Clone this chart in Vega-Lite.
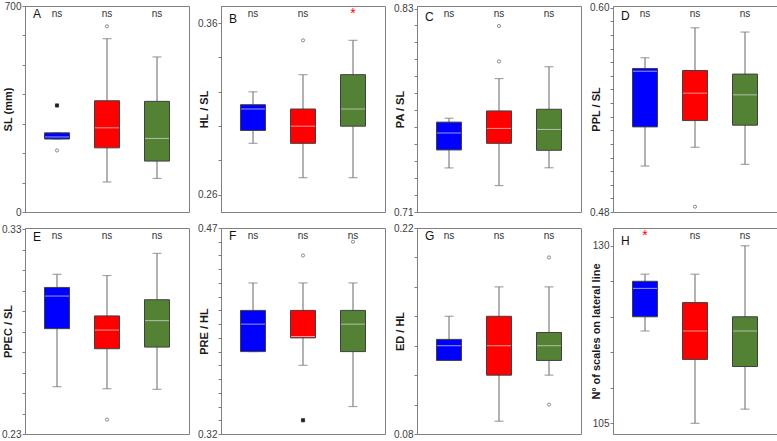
{
  "$schema": "https://vega.github.io/schema/vega-lite/v6.json",
  "padding": {"left": 1, "top": 0, "right": 0, "bottom": 0},
  "background": "white",
  "datasets": {
    "box": [
      {"panel": "A", "group": "g1", "lower": 248, "q1": 248, "median": 255, "q3": 269, "upper": 269, "sig": "ns"},
      {"panel": "A", "group": "g2", "lower": 102, "q1": 218, "median": 286, "q3": 378, "upper": 589, "sig": "ns"},
      {"panel": "A", "group": "g3", "lower": 114, "q1": 173, "median": 250, "q3": 376, "upper": 527, "sig": "ns"},
      {"panel": "B", "group": "g1", "lower": 0.290, "q1": 0.2975, "median": 0.310, "q3": 0.3125, "upper": 0.320, "sig": "ns"},
      {"panel": "B", "group": "g2", "lower": 0.270, "q1": 0.290, "median": 0.300, "q3": 0.310, "upper": 0.330, "sig": "ns"},
      {"panel": "B", "group": "g3", "lower": 0.270, "q1": 0.300, "median": 0.310, "q3": 0.330, "upper": 0.350, "sig": "*"},
      {"panel": "C", "group": "g1", "lower": 0.736, "q1": 0.7466, "median": 0.7566, "q3": 0.763, "upper": 0.7653, "sig": "ns"},
      {"panel": "C", "group": "g2", "lower": 0.7256, "q1": 0.7505, "median": 0.7593, "q3": 0.7696, "upper": 0.7887, "sig": "ns"},
      {"panel": "C", "group": "g3", "lower": 0.7361, "q1": 0.7464, "median": 0.7587, "q3": 0.7706, "upper": 0.7957, "sig": "ns"},
      {"panel": "D", "group": "g1", "lower": 0.507, "q1": 0.530, "median": 0.5627, "q3": 0.5643, "upper": 0.5706, "sig": "ns"},
      {"panel": "D", "group": "g2", "lower": 0.518, "q1": 0.5337, "median": 0.5498, "q3": 0.5631, "upper": 0.5882, "sig": "ns"},
      {"panel": "D", "group": "g3", "lower": 0.508, "q1": 0.531, "median": 0.5488, "q3": 0.561, "upper": 0.5857, "sig": "ns"},
      {"panel": "E", "group": "g1", "lower": 0.2531, "q1": 0.2814, "median": 0.2973, "q3": 0.3015, "upper": 0.3079, "sig": "ns"},
      {"panel": "E", "group": "g2", "lower": 0.2521, "q1": 0.2716, "median": 0.2807, "q3": 0.2876, "upper": 0.3073, "sig": "ns"},
      {"panel": "E", "group": "g3", "lower": 0.2518, "q1": 0.2724, "median": 0.2853, "q3": 0.2955, "upper": 0.3181, "sig": "ns"},
      {"panel": "F", "group": "g1", "lower": 0.38, "q1": 0.38, "median": 0.40, "q3": 0.41, "upper": 0.43, "sig": "ns"},
      {"panel": "F", "group": "g2", "lower": 0.37, "q1": 0.39, "median": 0.391, "q3": 0.41, "upper": 0.43, "sig": "ns"},
      {"panel": "F", "group": "g3", "lower": 0.34, "q1": 0.38, "median": 0.40, "q3": 0.41, "upper": 0.43, "sig": "ns"},
      {"panel": "G", "group": "g1", "lower": 0.13, "q1": 0.13, "median": 0.14, "q3": 0.1443, "upper": 0.16, "sig": "ns"},
      {"panel": "G", "group": "g2", "lower": 0.0887, "q1": 0.12, "median": 0.14, "q3": 0.16, "upper": 0.18, "sig": "ns"},
      {"panel": "G", "group": "g3", "lower": 0.12, "q1": 0.13, "median": 0.14, "q3": 0.149, "upper": 0.18, "sig": "ns"},
      {"panel": "H", "group": "g1", "lower": 118, "q1": 120, "median": 124, "q3": 125, "upper": 126, "sig": "*"},
      {"panel": "H", "group": "g2", "lower": 105, "q1": 114, "median": 118, "q3": 122, "upper": 126, "sig": "ns"},
      {"panel": "H", "group": "g3", "lower": 107, "q1": 113, "median": 118, "q3": 120, "upper": 130, "sig": "ns"}
    ],
    "out": [
      {"panel": "A", "group": "g1", "value": 362, "kind": "extreme"},
      {"panel": "A", "group": "g1", "value": 209, "kind": "outlier"},
      {"panel": "A", "group": "g2", "value": 631, "kind": "outlier"},
      {"panel": "B", "group": "g2", "value": 0.350, "kind": "outlier"},
      {"panel": "C", "group": "g2", "value": 0.7988, "kind": "outlier"},
      {"panel": "C", "group": "g2", "value": 0.8197, "kind": "outlier"},
      {"panel": "D", "group": "g2", "value": 0.4831, "kind": "outlier"},
      {"panel": "E", "group": "g2", "value": 0.237, "kind": "outlier"},
      {"panel": "F", "group": "g2", "value": 0.45, "kind": "outlier"},
      {"panel": "F", "group": "g2", "value": 0.33, "kind": "extreme"},
      {"panel": "F", "group": "g3", "value": 0.46, "kind": "outlier"},
      {"panel": "G", "group": "g3", "value": 0.20, "kind": "outlier"},
      {"panel": "G", "group": "g3", "value": 0.10, "kind": "outlier"}
    ]
  },
  "concat": [
    {
      "width": 164, "height": 206,
      "title": "A",
      "data": {"name": "box"},
      "transform": [{"filter": "datum.panel=='A'"}],
      "encoding": {"x": {"field": "group", "type": "nominal", "axis": null, "scale": {"domain": ["g1", "g2", "g3"], "paddingInner": 0.5, "paddingOuter": 0.39}}},
      "layer": [
        {"mark": {"type": "rule", "color": "#7f7f7f", "strokeWidth": 1.2}, "encoding": {"y": {"field": "lower", "type": "quantitative", "title": "SL (mm)", "scale": {"domain": [0, 700], "nice": false, "zero": false}, "axis": {"values": [0, 100, 200, 300, 400, 500, 600, 700], "format": "d", "labelExpr": "datum.index==0||datum.index==1?datum.label:''"}}, "y2": {"field": "upper"}}},
        {"mark": {"type": "tick", "size": 9, "color": "#7f7f7f", "thickness": 1.2}, "encoding": {"y": {"field": "lower", "type": "quantitative"}}},
        {"mark": {"type": "tick", "size": 9, "color": "#7f7f7f", "thickness": 1.2}, "encoding": {"y": {"field": "upper", "type": "quantitative"}}},
        {"mark": {"type": "bar", "stroke": "#404040", "strokeWidth": 1}, "encoding": {"y": {"field": "q1", "type": "quantitative"}, "y2": {"field": "q3"}, "color": {"field": "group", "type": "nominal", "legend": null, "scale": {"domain": ["g1", "g2", "g3"], "range": ["#0000ff", "#ff0000", "#548235"]}}}},
        {"mark": {"type": "tick", "size": 24, "color": "#dcdcdc", "thickness": 1}, "encoding": {"y": {"field": "median", "type": "quantitative"}}},
        {"data": {"name": "out"}, "transform": [{"filter": "datum.panel=='A'"}], "mark": {"type": "point", "size": 10, "strokeWidth": 0.8, "opacity": 1}, "encoding": {"y": {"field": "value", "type": "quantitative"}, "shape": {"field": "kind", "type": "nominal", "legend": null, "scale": {"domain": ["outlier", "extreme"], "range": ["circle", "square"]}}, "fill": {"condition": {"test": "datum.kind=='extreme'", "value": "#222222"}, "value": "#ffffff"}, "stroke": {"condition": {"test": "datum.kind=='extreme'", "value": "#222222"}, "value": "#707070"}}},
        {"mark": {"type": "text", "baseline": "middle", "dy": 8}, "encoding": {"y": {"value": 0}, "text": {"field": "sig"}, "color": {"condition": {"test": "datum.sig=='*'", "value": "#ff0000"}, "value": "#333333"}, "size": {"condition": {"test": "datum.sig=='*'", "value": 14}, "value": 10}}}
      ]
    },
    {
      "width": 164, "height": 206,
      "title": "B",
      "data": {"name": "box"},
      "transform": [{"filter": "datum.panel=='B'"}],
      "encoding": {"x": {"field": "group", "type": "nominal", "axis": null, "scale": {"domain": ["g1", "g2", "g3"], "paddingInner": 0.5, "paddingOuter": 0.39}}},
      "layer": [
        {"mark": {"type": "rule", "color": "#7f7f7f", "strokeWidth": 1.2}, "encoding": {"y": {"field": "lower", "type": "quantitative", "title": "HL / SL", "scale": {"domain": [0.25, 0.37], "nice": false, "zero": false}, "axis": {"values": [0.26, 0.28, 0.30, 0.32, 0.34, 0.36], "format": ".2f", "labelExpr": "datum.index==0||datum.index==1?datum.label:''"}}, "y2": {"field": "upper"}}},
        {"mark": {"type": "tick", "size": 9, "color": "#7f7f7f", "thickness": 1.2}, "encoding": {"y": {"field": "lower", "type": "quantitative"}}},
        {"mark": {"type": "tick", "size": 9, "color": "#7f7f7f", "thickness": 1.2}, "encoding": {"y": {"field": "upper", "type": "quantitative"}}},
        {"mark": {"type": "bar", "stroke": "#404040", "strokeWidth": 1}, "encoding": {"y": {"field": "q1", "type": "quantitative"}, "y2": {"field": "q3"}, "color": {"field": "group", "type": "nominal", "legend": null, "scale": {"domain": ["g1", "g2", "g3"], "range": ["#0000ff", "#ff0000", "#548235"]}}}},
        {"mark": {"type": "tick", "size": 24, "color": "#dcdcdc", "thickness": 1}, "encoding": {"y": {"field": "median", "type": "quantitative"}}},
        {"data": {"name": "out"}, "transform": [{"filter": "datum.panel=='B'"}], "mark": {"type": "point", "size": 10, "strokeWidth": 0.8, "opacity": 1}, "encoding": {"y": {"field": "value", "type": "quantitative"}, "shape": {"field": "kind", "type": "nominal", "legend": null, "scale": {"domain": ["outlier", "extreme"], "range": ["circle", "square"]}}, "fill": {"condition": {"test": "datum.kind=='extreme'", "value": "#222222"}, "value": "#ffffff"}, "stroke": {"condition": {"test": "datum.kind=='extreme'", "value": "#222222"}, "value": "#707070"}}},
        {"mark": {"type": "text", "baseline": "middle", "dy": 8}, "encoding": {"y": {"value": 0}, "text": {"field": "sig"}, "color": {"condition": {"test": "datum.sig=='*'", "value": "#ff0000"}, "value": "#333333"}, "size": {"condition": {"test": "datum.sig=='*'", "value": 14}, "value": 10}}}
      ]
    },
    {
      "width": 164, "height": 206,
      "title": "C",
      "data": {"name": "box"},
      "transform": [{"filter": "datum.panel=='C'"}],
      "encoding": {"x": {"field": "group", "type": "nominal", "axis": null, "scale": {"domain": ["g1", "g2", "g3"], "paddingInner": 0.5, "paddingOuter": 0.39}}},
      "layer": [
        {"mark": {"type": "rule", "color": "#7f7f7f", "strokeWidth": 1.2}, "encoding": {"y": {"field": "lower", "type": "quantitative", "title": "PA / SL", "scale": {"domain": [0.71, 0.8315], "nice": false, "zero": false}, "axis": {"values": [0.71, 0.72, 0.73, 0.74, 0.75, 0.76, 0.77, 0.78, 0.79, 0.80, 0.81, 0.82, 0.83], "format": ".2f", "labelExpr": "datum.index==0||datum.index==1?datum.label:''"}}, "y2": {"field": "upper"}}},
        {"mark": {"type": "tick", "size": 9, "color": "#7f7f7f", "thickness": 1.2}, "encoding": {"y": {"field": "lower", "type": "quantitative"}}},
        {"mark": {"type": "tick", "size": 9, "color": "#7f7f7f", "thickness": 1.2}, "encoding": {"y": {"field": "upper", "type": "quantitative"}}},
        {"mark": {"type": "bar", "stroke": "#404040", "strokeWidth": 1}, "encoding": {"y": {"field": "q1", "type": "quantitative"}, "y2": {"field": "q3"}, "color": {"field": "group", "type": "nominal", "legend": null, "scale": {"domain": ["g1", "g2", "g3"], "range": ["#0000ff", "#ff0000", "#548235"]}}}},
        {"mark": {"type": "tick", "size": 24, "color": "#dcdcdc", "thickness": 1}, "encoding": {"y": {"field": "median", "type": "quantitative"}}},
        {"data": {"name": "out"}, "transform": [{"filter": "datum.panel=='C'"}], "mark": {"type": "point", "size": 10, "strokeWidth": 0.8, "opacity": 1}, "encoding": {"y": {"field": "value", "type": "quantitative"}, "shape": {"field": "kind", "type": "nominal", "legend": null, "scale": {"domain": ["outlier", "extreme"], "range": ["circle", "square"]}}, "fill": {"condition": {"test": "datum.kind=='extreme'", "value": "#222222"}, "value": "#ffffff"}, "stroke": {"condition": {"test": "datum.kind=='extreme'", "value": "#222222"}, "value": "#707070"}}},
        {"mark": {"type": "text", "baseline": "middle", "dy": 8}, "encoding": {"y": {"value": 0}, "text": {"field": "sig"}, "color": {"condition": {"test": "datum.sig=='*'", "value": "#ff0000"}, "value": "#333333"}, "size": {"condition": {"test": "datum.sig=='*'", "value": 14}, "value": 10}}}
      ]
    },
    {
      "width": 164, "height": 206,
      "title": "D",
      "data": {"name": "box"},
      "transform": [{"filter": "datum.panel=='D'"}],
      "encoding": {"x": {"field": "group", "type": "nominal", "axis": null, "scale": {"domain": ["g1", "g2", "g3"], "paddingInner": 0.5, "paddingOuter": 0.39}}},
      "layer": [
        {"mark": {"type": "rule", "color": "#7f7f7f", "strokeWidth": 1.2}, "encoding": {"y": {"field": "lower", "type": "quantitative", "title": "PPL / SL", "scale": {"domain": [0.48, 0.601], "nice": false, "zero": false}, "axis": {"values": [0.48, 0.488, 0.496, 0.504, 0.512, 0.52, 0.528, 0.536, 0.544, 0.552, 0.56, 0.568, 0.576, 0.584, 0.592, 0.60], "format": ".2f", "labelExpr": "datum.index==0||datum.index==1?datum.label:''"}}, "y2": {"field": "upper"}}},
        {"mark": {"type": "tick", "size": 9, "color": "#7f7f7f", "thickness": 1.2}, "encoding": {"y": {"field": "lower", "type": "quantitative"}}},
        {"mark": {"type": "tick", "size": 9, "color": "#7f7f7f", "thickness": 1.2}, "encoding": {"y": {"field": "upper", "type": "quantitative"}}},
        {"mark": {"type": "bar", "stroke": "#404040", "strokeWidth": 1}, "encoding": {"y": {"field": "q1", "type": "quantitative"}, "y2": {"field": "q3"}, "color": {"field": "group", "type": "nominal", "legend": null, "scale": {"domain": ["g1", "g2", "g3"], "range": ["#0000ff", "#ff0000", "#548235"]}}}},
        {"mark": {"type": "tick", "size": 24, "color": "#dcdcdc", "thickness": 1}, "encoding": {"y": {"field": "median", "type": "quantitative"}}},
        {"data": {"name": "out"}, "transform": [{"filter": "datum.panel=='D'"}], "mark": {"type": "point", "size": 10, "strokeWidth": 0.8, "opacity": 1}, "encoding": {"y": {"field": "value", "type": "quantitative"}, "shape": {"field": "kind", "type": "nominal", "legend": null, "scale": {"domain": ["outlier", "extreme"], "range": ["circle", "square"]}}, "fill": {"condition": {"test": "datum.kind=='extreme'", "value": "#222222"}, "value": "#ffffff"}, "stroke": {"condition": {"test": "datum.kind=='extreme'", "value": "#222222"}, "value": "#707070"}}},
        {"mark": {"type": "text", "baseline": "middle", "dy": 8}, "encoding": {"y": {"value": 0}, "text": {"field": "sig"}, "color": {"condition": {"test": "datum.sig=='*'", "value": "#ff0000"}, "value": "#333333"}, "size": {"condition": {"test": "datum.sig=='*'", "value": 14}, "value": 10}}}
      ]
    },
    {
      "width": 164, "height": 206,
      "title": "E",
      "data": {"name": "box"},
      "transform": [{"filter": "datum.panel=='E'"}],
      "encoding": {"x": {"field": "group", "type": "nominal", "axis": null, "scale": {"domain": ["g1", "g2", "g3"], "paddingInner": 0.5, "paddingOuter": 0.39}}},
      "layer": [
        {"mark": {"type": "rule", "color": "#7f7f7f", "strokeWidth": 1.2}, "encoding": {"y": {"field": "lower", "type": "quantitative", "title": "PPEC / SL", "scale": {"domain": [0.23, 0.3305], "nice": false, "zero": false}, "axis": {"values": [0.23, 0.24, 0.25, 0.26, 0.27, 0.28, 0.29, 0.30, 0.31, 0.32, 0.33], "format": ".2f", "labelExpr": "datum.index==0||datum.index==1?datum.label:''"}}, "y2": {"field": "upper"}}},
        {"mark": {"type": "tick", "size": 9, "color": "#7f7f7f", "thickness": 1.2}, "encoding": {"y": {"field": "lower", "type": "quantitative"}}},
        {"mark": {"type": "tick", "size": 9, "color": "#7f7f7f", "thickness": 1.2}, "encoding": {"y": {"field": "upper", "type": "quantitative"}}},
        {"mark": {"type": "bar", "stroke": "#404040", "strokeWidth": 1}, "encoding": {"y": {"field": "q1", "type": "quantitative"}, "y2": {"field": "q3"}, "color": {"field": "group", "type": "nominal", "legend": null, "scale": {"domain": ["g1", "g2", "g3"], "range": ["#0000ff", "#ff0000", "#548235"]}}}},
        {"mark": {"type": "tick", "size": 24, "color": "#dcdcdc", "thickness": 1}, "encoding": {"y": {"field": "median", "type": "quantitative"}}},
        {"data": {"name": "out"}, "transform": [{"filter": "datum.panel=='E'"}], "mark": {"type": "point", "size": 10, "strokeWidth": 0.8, "opacity": 1}, "encoding": {"y": {"field": "value", "type": "quantitative"}, "shape": {"field": "kind", "type": "nominal", "legend": null, "scale": {"domain": ["outlier", "extreme"], "range": ["circle", "square"]}}, "fill": {"condition": {"test": "datum.kind=='extreme'", "value": "#222222"}, "value": "#ffffff"}, "stroke": {"condition": {"test": "datum.kind=='extreme'", "value": "#222222"}, "value": "#707070"}}},
        {"mark": {"type": "text", "baseline": "middle", "dy": 8}, "encoding": {"y": {"value": 0}, "text": {"field": "sig"}, "color": {"condition": {"test": "datum.sig=='*'", "value": "#ff0000"}, "value": "#333333"}, "size": {"condition": {"test": "datum.sig=='*'", "value": 14}, "value": 10}}}
      ]
    },
    {
      "width": 164, "height": 206,
      "title": "F",
      "data": {"name": "box"},
      "transform": [{"filter": "datum.panel=='F'"}],
      "encoding": {"x": {"field": "group", "type": "nominal", "axis": null, "scale": {"domain": ["g1", "g2", "g3"], "paddingInner": 0.5, "paddingOuter": 0.39}}},
      "layer": [
        {"mark": {"type": "rule", "color": "#7f7f7f", "strokeWidth": 1.2}, "encoding": {"y": {"field": "lower", "type": "quantitative", "title": "PRE / HL", "scale": {"domain": [0.32, 0.47], "nice": false, "zero": false}, "axis": {"values": [0.32, 0.33, 0.34, 0.35, 0.36, 0.37, 0.38, 0.39, 0.40, 0.41, 0.42, 0.43, 0.44, 0.45, 0.46, 0.47], "format": ".2f", "labelExpr": "datum.index==0||datum.index==1?datum.label:''"}}, "y2": {"field": "upper"}}},
        {"mark": {"type": "tick", "size": 9, "color": "#7f7f7f", "thickness": 1.2}, "encoding": {"y": {"field": "lower", "type": "quantitative"}}},
        {"mark": {"type": "tick", "size": 9, "color": "#7f7f7f", "thickness": 1.2}, "encoding": {"y": {"field": "upper", "type": "quantitative"}}},
        {"mark": {"type": "bar", "stroke": "#404040", "strokeWidth": 1}, "encoding": {"y": {"field": "q1", "type": "quantitative"}, "y2": {"field": "q3"}, "color": {"field": "group", "type": "nominal", "legend": null, "scale": {"domain": ["g1", "g2", "g3"], "range": ["#0000ff", "#ff0000", "#548235"]}}}},
        {"mark": {"type": "tick", "size": 24, "color": "#dcdcdc", "thickness": 1}, "encoding": {"y": {"field": "median", "type": "quantitative"}}},
        {"data": {"name": "out"}, "transform": [{"filter": "datum.panel=='F'"}], "mark": {"type": "point", "size": 10, "strokeWidth": 0.8, "opacity": 1}, "encoding": {"y": {"field": "value", "type": "quantitative"}, "shape": {"field": "kind", "type": "nominal", "legend": null, "scale": {"domain": ["outlier", "extreme"], "range": ["circle", "square"]}}, "fill": {"condition": {"test": "datum.kind=='extreme'", "value": "#222222"}, "value": "#ffffff"}, "stroke": {"condition": {"test": "datum.kind=='extreme'", "value": "#222222"}, "value": "#707070"}}},
        {"mark": {"type": "text", "baseline": "middle", "dy": 8}, "encoding": {"y": {"value": 0}, "text": {"field": "sig"}, "color": {"condition": {"test": "datum.sig=='*'", "value": "#ff0000"}, "value": "#333333"}, "size": {"condition": {"test": "datum.sig=='*'", "value": 14}, "value": 10}}}
      ]
    },
    {
      "width": 164, "height": 206,
      "title": "G",
      "data": {"name": "box"},
      "transform": [{"filter": "datum.panel=='G'"}],
      "encoding": {"x": {"field": "group", "type": "nominal", "axis": null, "scale": {"domain": ["g1", "g2", "g3"], "paddingInner": 0.5, "paddingOuter": 0.39}}},
      "layer": [
        {"mark": {"type": "rule", "color": "#7f7f7f", "strokeWidth": 1.2}, "encoding": {"y": {"field": "lower", "type": "quantitative", "title": "ED / HL", "scale": {"domain": [0.08, 0.22], "nice": false, "zero": false}, "axis": {"values": [0.08, 0.10, 0.12, 0.14, 0.16, 0.18, 0.20, 0.22], "format": ".2f", "labelExpr": "datum.index==0||datum.index==1?datum.label:''"}}, "y2": {"field": "upper"}}},
        {"mark": {"type": "tick", "size": 9, "color": "#7f7f7f", "thickness": 1.2}, "encoding": {"y": {"field": "lower", "type": "quantitative"}}},
        {"mark": {"type": "tick", "size": 9, "color": "#7f7f7f", "thickness": 1.2}, "encoding": {"y": {"field": "upper", "type": "quantitative"}}},
        {"mark": {"type": "bar", "stroke": "#404040", "strokeWidth": 1}, "encoding": {"y": {"field": "q1", "type": "quantitative"}, "y2": {"field": "q3"}, "color": {"field": "group", "type": "nominal", "legend": null, "scale": {"domain": ["g1", "g2", "g3"], "range": ["#0000ff", "#ff0000", "#548235"]}}}},
        {"mark": {"type": "tick", "size": 24, "color": "#dcdcdc", "thickness": 1}, "encoding": {"y": {"field": "median", "type": "quantitative"}}},
        {"data": {"name": "out"}, "transform": [{"filter": "datum.panel=='G'"}], "mark": {"type": "point", "size": 10, "strokeWidth": 0.8, "opacity": 1}, "encoding": {"y": {"field": "value", "type": "quantitative"}, "shape": {"field": "kind", "type": "nominal", "legend": null, "scale": {"domain": ["outlier", "extreme"], "range": ["circle", "square"]}}, "fill": {"condition": {"test": "datum.kind=='extreme'", "value": "#222222"}, "value": "#ffffff"}, "stroke": {"condition": {"test": "datum.kind=='extreme'", "value": "#222222"}, "value": "#707070"}}},
        {"mark": {"type": "text", "baseline": "middle", "dy": 8}, "encoding": {"y": {"value": 0}, "text": {"field": "sig"}, "color": {"condition": {"test": "datum.sig=='*'", "value": "#ff0000"}, "value": "#333333"}, "size": {"condition": {"test": "datum.sig=='*'", "value": 14}, "value": 10}}}
      ]
    },
    {
      "width": 164, "height": 206,
      "title": "H",
      "data": {"name": "box"},
      "transform": [{"filter": "datum.panel=='H'"}],
      "encoding": {"x": {"field": "group", "type": "nominal", "axis": null, "scale": {"domain": ["g1", "g2", "g3"], "paddingInner": 0.5, "paddingOuter": 0.39}}},
      "layer": [
        {"mark": {"type": "rule", "color": "#7f7f7f", "strokeWidth": 1.2}, "encoding": {"y": {"field": "lower", "type": "quantitative", "title": "Nº of scales on lateral line", "scale": {"domain": [103.5, 132.5], "nice": false, "zero": false}, "axis": {"values": [105, 110, 115, 120, 125, 130], "format": "d", "labelExpr": "datum.index==0||datum.index==1?datum.label:''"}}, "y2": {"field": "upper"}}},
        {"mark": {"type": "tick", "size": 9, "color": "#7f7f7f", "thickness": 1.2}, "encoding": {"y": {"field": "lower", "type": "quantitative"}}},
        {"mark": {"type": "tick", "size": 9, "color": "#7f7f7f", "thickness": 1.2}, "encoding": {"y": {"field": "upper", "type": "quantitative"}}},
        {"mark": {"type": "bar", "stroke": "#404040", "strokeWidth": 1}, "encoding": {"y": {"field": "q1", "type": "quantitative"}, "y2": {"field": "q3"}, "color": {"field": "group", "type": "nominal", "legend": null, "scale": {"domain": ["g1", "g2", "g3"], "range": ["#0000ff", "#ff0000", "#548235"]}}}},
        {"mark": {"type": "tick", "size": 24, "color": "#dcdcdc", "thickness": 1}, "encoding": {"y": {"field": "median", "type": "quantitative"}}},
        {"mark": {"type": "text", "baseline": "middle", "dy": 8}, "encoding": {"y": {"value": 0}, "text": {"field": "sig"}, "color": {"condition": {"test": "datum.sig=='*'", "value": "#ff0000"}, "value": "#333333"}, "size": {"condition": {"test": "datum.sig=='*'", "value": 14}, "value": 10}}}
      ]
    }
  ],
  "columns": 4,
  "spacing": {"row": 16, "column": 32},
  "bounds": "flush",
  "config": {
    "font": "Liberation Sans",
    "view": {"stroke": "#808080", "strokeWidth": 1},
    "axis": {
      "domainColor": "#808080", "tickColor": "#808080", "tickSize": 3, "tickCount": 100, "grid": false,
      "labelColor": "#404040", "labelFont": "Liberation Sans", "labelFontSize": 10, "labelPadding": 1,
      "labelFlush": false, "labelOverlap": false,
      "titleFont": "Liberation Sans", "titleFontSize": 11, "titleFontWeight": "bold", "titleColor": "#1a1a1a",
      "titleAngle": 270, "titleAlign": "center", "titleBaseline": "middle", "titleX": -17
    },
    "title": {"fontSize": 12, "fontWeight": "normal", "color": "#111111", "anchor": "start", "frame": "group", "offset": -20, "dx": 8, "baseline": "middle"},
    "text": {"font": "Liberation Sans"}
  }
}
